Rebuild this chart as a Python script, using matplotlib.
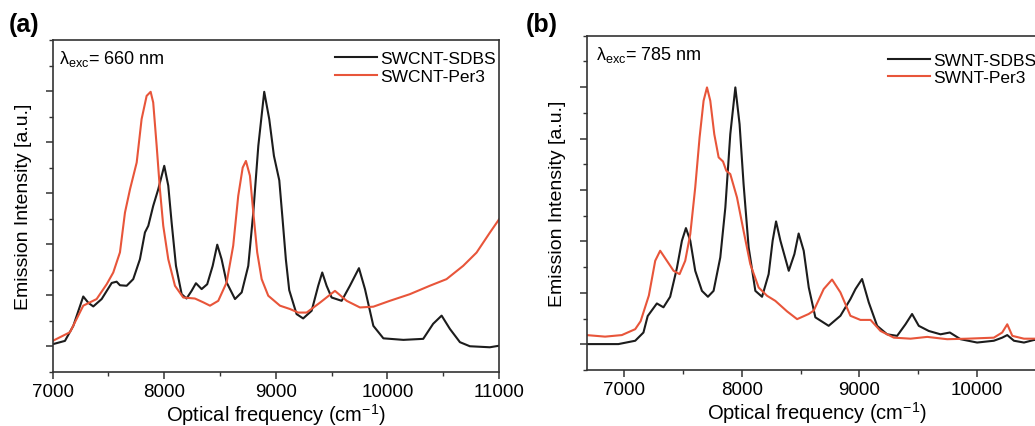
import numpy as np
import matplotlib.pyplot as plt
from matplotlib.ticker import MultipleLocator

plt.rcParams['font.family'] = ['Liberation Sans', 'DejaVu Sans']
plt.rcParams['mathtext.fontset'] = 'custom'
plt.rcParams['mathtext.rm'] = 'Liberation Sans'
plt.rcParams['mathtext.it'] = 'Liberation Sans'

BLACK = '#1c1c1c'
RED = '#e8553a'

# panel (a), excitation 660 nm
a_sdbs_x = [7000, 7110, 7185, 7274, 7320, 7364, 7439, 7529, 7573, 7603, 7663, 7722, 7782,
            7827, 7857, 7901, 7946, 8000, 8036, 8066, 8105, 8156, 8200, 8245, 8284, 8335,
            8385, 8434, 8475, 8514, 8559, 8634, 8694, 8753, 8798, 8843, 8896, 8941, 8983,
            9031, 9060, 9090, 9120, 9186, 9245, 9321, 9380, 9416, 9455, 9500, 9590, 9664,
            9745, 9799, 9874, 9964, 10143, 10321, 10410, 10486, 10560, 10650, 10739, 10918,
            11000]
a_sdbs_y = [1.08, 1.21, 1.80, 2.95, 2.70, 2.56, 2.85, 3.48, 3.53, 3.39, 3.37, 3.63, 4.41,
            5.46, 5.72, 6.50, 7.15, 8.07, 7.29, 5.85, 4.15, 3.04, 2.87, 3.17, 3.47, 3.24,
            3.43, 4.15, 4.98, 4.41, 3.50, 2.85, 3.11, 4.15, 6.24, 8.85, 10.97, 9.90, 8.46,
            7.50, 6.00, 4.40, 3.20, 2.26, 2.09, 2.39, 3.37, 3.89, 3.37, 2.91, 2.78, 3.37,
            4.06, 3.24, 1.80, 1.31, 1.25, 1.29, 1.88, 2.20, 1.68, 1.16, 1.00, 0.96,
            1.02]
a_per3_x = [7000, 7155, 7274, 7394, 7484, 7543, 7603, 7648, 7693, 7753, 7797, 7842, 7878,
            7901, 7932, 7961, 7991, 8036, 8096, 8170, 8275, 8350, 8410, 8484, 8559, 8618,
            8663, 8703, 8732, 8768, 8798, 8833, 8873, 8932, 9037, 9126, 9200, 9276, 9396,
            9530, 9635, 9754, 9874, 10022, 10201, 10380, 10530, 10679, 10799, 10918, 11000]
a_per3_y = [1.21, 1.55, 2.59, 2.85, 3.43, 3.89, 4.68, 6.24, 7.15, 8.20, 9.90, 10.81, 10.97,
            10.55, 8.85, 7.15, 5.72, 4.41, 3.37, 2.91, 2.87, 2.72, 2.59, 2.78, 3.50, 4.94,
            6.89, 8.00, 8.26, 7.68, 6.24, 4.68, 3.63, 2.98, 2.59, 2.46, 2.32, 2.32, 2.71,
            3.17, 2.78, 2.52, 2.55, 2.78, 3.04, 3.37, 3.63, 4.15, 4.67, 5.45, 5.97]

# panel (b), excitation 785 nm
b_sdbs_x = [6680, 6951, 7094, 7164, 7200, 7278, 7334, 7391, 7448, 7491, 7525, 7562, 7604,
            7661, 7712, 7760, 7817, 7860, 7902, 7945, 7981, 8015, 8058, 8115, 8172, 8228,
            8262, 8291, 8328, 8399, 8447, 8483, 8526, 8569, 8625, 8738, 8838, 8923, 8966,
            9022, 9079, 9150, 9235, 9320, 9391, 9447, 9504, 9589, 9689, 9768, 9859, 10000,
            10142, 10213, 10256, 10313, 10398, 10483, 10600]
b_sdbs_y = [1.01, 1.01, 1.14, 1.46, 2.10, 2.59, 2.44, 2.85, 3.96, 5.03, 5.52, 5.03, 3.86,
            3.08, 2.85, 3.08, 4.38, 6.32, 9.17, 10.99, 9.56, 7.23, 4.77, 3.08, 2.85, 3.73,
            5.03, 5.78, 5.03, 3.86, 4.51, 5.31, 4.64, 3.21, 2.05, 1.72, 2.11, 2.76, 3.15,
            3.54, 2.63, 1.72, 1.39, 1.33, 1.78, 2.18, 1.72, 1.52, 1.39, 1.46, 1.20, 1.07,
            1.14, 1.26, 1.36, 1.14, 1.07, 1.17, 1.20]
b_per3_x = [6680, 6838, 6980, 7094, 7140, 7210, 7264, 7306, 7363, 7420, 7471, 7519, 7562,
            7604, 7641, 7675, 7704, 7732, 7766, 7803, 7840, 7868, 7902, 7959, 8015, 8072,
            8143, 8214, 8285, 8385, 8470, 8568, 8611, 8696, 8767, 8838, 8923, 9008, 9094,
            9179, 9292, 9434, 9576, 9745, 9915, 10142, 10213, 10256, 10299, 10398, 10600]
b_per3_y = [1.36, 1.30, 1.36, 1.59, 1.90, 2.90, 4.25, 4.64, 4.25, 3.86, 3.73, 4.25, 5.29,
            7.10, 9.04, 10.47, 10.99, 10.47, 9.17, 8.27, 8.11, 7.75, 7.62, 6.71, 5.41, 4.12,
            3.21, 2.89, 2.69, 2.28, 1.98, 2.18, 2.31, 3.15, 3.52, 3.02, 2.11, 1.95, 1.95,
            1.52, 1.26, 1.22, 1.29, 1.20, 1.22, 1.26, 1.46, 1.78, 1.33, 1.22, 1.22]

fig = plt.figure(figsize=(10.35, 4.27), dpi=100)
ax_a = fig.add_axes([0.0509, 0.127, 0.4312, 0.777])
ax_b = fig.add_axes([0.5669, 0.131, 0.4454, 0.783])


def style(ax, xlim):
    ax.set_xlim(*xlim)
    ax.set_ylim(0, 13)
    ax.xaxis.set_major_locator(MultipleLocator(1000))
    ax.xaxis.set_minor_locator(MultipleLocator(500))
    ax.set_yticks([1, 3, 5, 7, 9, 11])
    ax.set_yticks(range(0, 14), minor=True)
    ax.set_yticklabels([])
    ax.tick_params(which='major', direction='out', length=5, width=1.1, color='#333333',
                   labelsize=13.5, pad=3)
    ax.tick_params(which='minor', direction='out', length=3, width=1.0, color='#333333')
    for sp in ax.spines.values():
        sp.set_linewidth(1.2)
        sp.set_color('#333333')
    ax.set_xlabel('Optical frequency (cm$^{-1}$)', fontsize=14.5, labelpad=1)
    ax.set_ylabel('Emission Intensity [a.u.]', fontsize=14, labelpad=7)


ax_a.plot(a_sdbs_x, a_sdbs_y, color=BLACK, lw=1.5, label='SWCNT-SDBS')
ax_a.plot(a_per3_x, a_per3_y, color=RED, lw=1.5, label='SWCNT-Per3')
style(ax_a, (7000, 11000))
ax_a.text(0.014, 0.93, r'$\lambda_{\mathrm{exc}}$= 660 nm', transform=ax_a.transAxes,
          fontsize=13, va='baseline')
ax_a.legend(loc='upper left', bbox_to_anchor=(0.6325, 0.967), frameon=False,
            fontsize=12.5, handlelength=2.4, handletextpad=0.2, labelspacing=0.15,
            borderpad=0, borderaxespad=0)

ax_b.plot(b_sdbs_x, b_sdbs_y, color=BLACK, lw=1.5, label='SWNT-SDBS')
ax_b.plot(b_per3_x, b_per3_y, color=RED, lw=1.5, label='SWNT-Per3')
style(ax_b, (6682, 10600))
ax_b.text(0.02, 0.93, r'$\lambda_{\mathrm{exc}}$= 785 nm', transform=ax_b.transAxes,
          fontsize=13, va='baseline')
ax_b.legend(loc='upper left', bbox_to_anchor=(0.6536, 0.95), frameon=False,
            fontsize=12.5, handlelength=2.4, handletextpad=0.2, labelspacing=0.15,
            borderpad=0, borderaxespad=0)

fig.text(0.008, 0.942, '(a)', fontsize=18, fontweight='bold', va='center')
fig.text(0.508, 0.942, '(b)', fontsize=18, fontweight='bold', va='center')

fig.savefig('out.png', dpi=100)
